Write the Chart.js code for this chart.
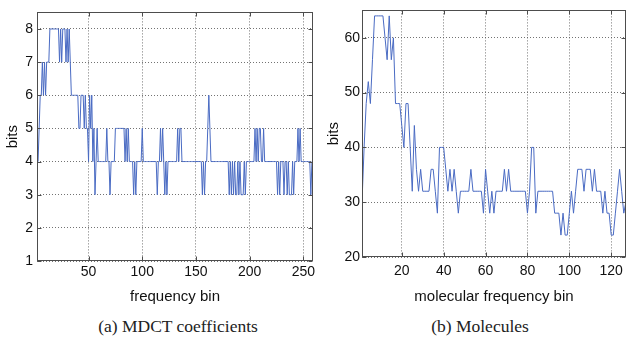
<!DOCTYPE html>
<html><head><meta charset="utf-8">
<script src="https://cdn.jsdelivr.net/npm/chart.js@4"></script>
<style>
html,body{margin:0;padding:0;background:#fff;width:629px;height:341px;overflow:hidden}
.box{position:absolute;top:0;height:310px}
#a{left:0;width:325px}
#b{left:325px;width:304px}
.cap{position:absolute;top:316px;font-family:"Liberation Serif","Times New Roman",serif;font-size:17.5px;color:#222;white-space:nowrap;transform:translateX(-50%)}
</style></head><body>
<div class="box" id="a"><canvas id="ca"></canvas></div>
<div class="box" id="b"><canvas id="cb"></canvas></div>
<div class="cap" style="left:178px">(a) MDCT coefficients</div>
<div class="cap" style="left:480px">(b) Molecules</div>
<script>
// ---- data (a) MDCT coefficients: bits per frequency bin, first bin = 2 ----
const mdctFirstBin = 2;
const mdctBits = [
  4,4,5,6,6,7,6,7,6,7,
  7,7,8,8,8,8,8,8,8,8,
  8,7,8,7,8,8,8,7,8,7,
  8,7,6,6,6,6,6,6,6,5,
  5,6,6,6,5,6,5,5,4,6,
  5,6,4,5,3,4,5,4,4,4,
  4,4,4,4,4,5,4,4,3,4,
  4,4,4,5,5,5,5,5,5,5,
  5,5,4,5,4,5,4,4,4,4,
  3,4,3,4,4,4,4,4,5,4,
  4,4,4,4,4,4,4,4,4,4,
  4,4,3,4,4,5,4,5,4,3,
  4,3,4,4,4,4,4,4,4,4,
  4,5,4,5,5,4,4,4,4,4,
  4,4,4,4,4,4,4,4,4,4,
  4,4,4,4,3,4,3,4,4,5,
  6,5,4,4,4,4,4,4,4,4,
  4,4,4,4,4,4,4,4,4,3,
  4,3,4,3,4,3,3,4,3,4,
  3,3,3,4,3,4,4,4,4,4,
  4,4,4,5,4,5,4,5,5,4,
  4,5,4,4,4,4,4,4,4,4,
  4,4,4,4,3,4,3,4,4,4,
  3,4,4,3,4,3,3,3,4,3,
  4,4,4,5,4,5,4,4,4,4,
  4,4,4,4,4,3,4,4
];
const mdctXTicks = [50, 100, 150, 200, 250];
const mdctYTicks = [1, 2, 3, 4, 5, 6, 7, 8];

// ---- data (b) Molecules: bits per molecular frequency bin, first bin = 1 ----
const molFirstBin = 1;
const molBits = [
  30,40,48,52,48,56,64,64,64,64,
  64,60,56,64,56,60,48,48,48,44,
  40,48,48,40,32,44,36,32,36,32,
  32,32,32,36,36,32,28,40,40,40,
  36,32,36,32,36,32,28,32,32,32,
  32,32,36,32,32,32,32,32,28,36,
  32,28,32,28,32,32,32,32,36,32,
  36,32,32,32,32,32,32,32,32,28,
  32,40,40,28,32,32,32,32,32,32,
  32,32,28,28,28,24,28,24,24,28,
  32,28,32,36,36,36,32,36,36,36,
  32,36,32,32,32,28,32,28,28,24,
  24,28,32,36,32,28,30
];
const molXTicks = [20, 40, 60, 80, 100, 120];
const molYTicks = [20, 30, 40, 50, 60];

const toPoints = (vals, first) => vals.map((v, i) => ({x: first + i, y: v}));

const FONT = "'Liberation Sans', Arial, sans-serif";
const LINE = '#4a6bc3';

const frame = {
  id: 'frame',
  afterDraw(chart) {
    const {ctx, chartArea: a, scales: {x, y}} = chart;
    ctx.save();
    ctx.strokeStyle = '#4d4d4d';
    ctx.lineWidth = 1;
    const L = Math.round(a.left) + 0.5, R = Math.round(a.right) - 0.5;
    const T = Math.round(a.top) + 0.5, B = Math.round(a.bottom) - 0.5;
    ctx.strokeRect(L, T, R - L, B - T);
    const k = 4;
    ctx.beginPath();
    x.ticks.forEach(t => {
      const p = Math.round(x.getPixelForValue(t.value)) + 0.5;
      ctx.moveTo(p, B); ctx.lineTo(p, B - k);
      ctx.moveTo(p, T); ctx.lineTo(p, T + k);
    });
    y.ticks.forEach(t => {
      const p = Math.round(y.getPixelForValue(t.value)) + 0.5;
      ctx.moveTo(L, p); ctx.lineTo(L + k, p);
      ctx.moveTo(R, p); ctx.lineTo(R - k, p);
    });
    ctx.stroke();
    ctx.restore();
  }
};

function makeChart(id, pts, cfg) {
  return new Chart(document.getElementById(id), {
    type: 'scatter',
    data: {datasets: [{data: pts, showLine: true, borderColor: LINE, borderWidth: 1,
      pointRadius: 0, pointHoverRadius: 0, tension: 0, fill: false}]},
    options: {
      animation: false, responsive: true, maintainAspectRatio: false,
      events: [],
      layout: {padding: {top: cfg.padTop, right: cfg.padRight, left: 0, bottom: 0}},
      plugins: {legend: {display: false}, tooltip: {enabled: false}},
      scales: {
        x: {
          type: 'linear', min: cfg.xMin, max: cfg.xMax,
          afterBuildTicks: s => { s.ticks = cfg.xTicks.map(v => ({value: v})); },
          afterFit: s => { s.height = cfg.xH; },
          grid: {color: 'rgba(90,90,90,0.85)', drawTicks: false, lineWidth: 1},
          border: {display: false, dash: [1, 2]},
          ticks: {padding: cfg.xPad, color: '#111', font: {family: FONT, size: 14}, maxRotation: 0, autoSkip: false},
          title: {display: true, text: cfg.xTitle, color: '#111', font: {family: FONT, size: 15},
            padding: {top: 0, bottom: 4}}
        },
        y: {
          type: 'linear', min: cfg.yMin, max: cfg.yMax,
          afterBuildTicks: s => { s.ticks = cfg.yTicks.map(v => ({value: v})); },
          afterFit: s => { s.width = 37; },
          grid: {color: 'rgba(90,90,90,0.85)', drawTicks: false, lineWidth: 1},
          border: {display: false, dash: [1, 2]},
          ticks: {padding: cfg.yPad, color: '#111', font: {family: FONT, size: 14}, autoSkip: false},
          title: {display: true, text: 'bits', color: '#111', font: {family: FONT, size: 15},
            padding: {top: cfg.yTitlePad, bottom: 0}}
        }
      }
    },
    plugins: [frame]
  });
}

makeChart('ca', toPoints(mdctBits, mdctFirstBin), {
  xMin: 2, xMax: 259, yMin: 1, yMax: 8.5, xTicks: mdctXTicks, yTicks: mdctYTicks,
  padTop: 11, padRight: 12, xH: 49, xPad: 3, xTitle: 'frequency bin', yTitlePad: 4, yPad: 4
});
makeChart('cb', toPoints(molBits, molFirstBin), {
  xMin: 1, xMax: 127, yMin: 20, yMax: 65, xTicks: molXTicks, yTicks: molYTicks,
  padTop: 8, padRight: 2, xH: 53, xPad: 6, xTitle: 'molecular frequency bin', yTitlePad: 0, yPad: 2
});
</script>
</body></html>
